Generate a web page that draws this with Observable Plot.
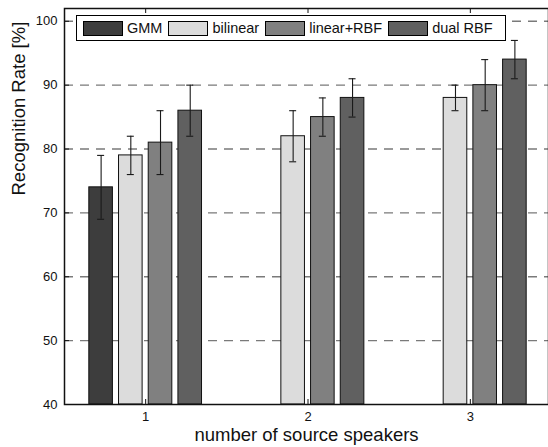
<!DOCTYPE html>
<html>
<head>
<meta charset="utf-8">
<script src="https://cdn.jsdelivr.net/npm/d3@7"></script>
<script src="https://cdn.jsdelivr.net/npm/@observablehq/plot@0.6"></script>
<style>
  html, body { margin: 0; padding: 0; background: #fff; }
  #wrap { position: relative; width: 548px; height: 447px; font-family: "Liberation Sans", Arial, sans-serif; }
  #legend { position: absolute; left: 76px; top: 15px; width: 428px; height: 24px; border: 1.3px solid #000; background: #fff;
            display: flex; align-items: center; font-size: 14.5px; color: #111; box-sizing: content-box; }
  .sw { width: 38px; height: 13px; border: 1px solid #000; margin-left: 6px; margin-right: 4px; }
</style>
</head>
<body>
<div id="wrap"><div id="legend"></div></div>
<script>
const groups = [1, 2, 3];
const series = ["GMM", "bilinear", "linear+RBF", "dual RBF"];
const colors = ["#3d3d3d", "#dcdcdc", "#808080", "#606060"];
// values per series, per group (null = no bar)
const GMM      = [74, null, null];
const bilinear = [79, 82, 88];
const linRBF   = [81, 85, 90];
const dualRBF  = [86, 88, 94];
const errLow  = { "GMM": [69, null, null], "bilinear": [76, 78, 86], "linear+RBF": [76, 82, 86], "dual RBF": [82, 85, 91] };
const errHigh = { "GMM": [79, null, null], "bilinear": [82, 86, 90], "linear+RBF": [86, 88, 94], "dual RBF": [90, 91, 97] };
const yTicks = [40, 50, 60, 70, 80, 90, 100];
const xLabel = "number of source speakers";
const yLabel = "Recognition Rate [%]";

const valuesBySeries = { "GMM": GMM, "bilinear": bilinear, "linear+RBF": linRBF, "dual RBF": dualRBF };
const data = [];
series.forEach((s, i) => groups.forEach((g, j) => {
  const v = valuesBySeries[s][j];
  if (v != null) data.push({ series: s, idx: i, group: g, value: v, lo: errLow[s][j], hi: errHigh[s][j] });
}));

const W = 548, H = 447;
const xRange = [64, 551];
const xDomain = [0.5, 3.5];
const pxPerUnit = (xRange[1] - xRange[0]) / (xDomain[1] - xDomain[0]);
const slot = 29.7 / pxPerUnit;
const half = 11.8 / pxPerUnit;
const cap = 3.5 / pxPerUnit;
const yDomain = [40, 102];
const yPx = (404 - 8) / (yDomain[1] - yDomain[0]);
const center = d => d.group + (d.idx - 1.5) * slot;
const tickLenX = 5 / pxPerUnit, tickLenY = 5 / yPx;

const plot = Plot.plot({
  width: W, height: H,
  marginLeft: 64, marginRight: 0, marginTop: 8, marginBottom: 43,
  style: { fontFamily: "Liberation Sans, Arial, sans-serif", fontSize: "13px", color: "#111", background: "transparent" },
  x: { domain: xDomain, range: xRange },
  y: { domain: yDomain },
  color: { domain: series, range: colors },
  marks: [
    Plot.ruleY(yTicks.filter(t => t > yDomain[0]), { stroke: "#7a7a7a", strokeWidth: 1.4, strokeDasharray: "9,7" }),
    Plot.rectY(data, { x1: d => center(d) - half, x2: d => center(d) + half, y1: yDomain[0], y2: "value",
      fill: "series", stroke: "#111", strokeWidth: 1 }),
    Plot.ruleX(data, { x: center, y1: "lo", y2: "hi", stroke: "#1a1a1a", strokeWidth: 1.1 }),
    Plot.ruleY(data, { y: "lo", x1: d => center(d) - cap, x2: d => center(d) + cap, stroke: "#1a1a1a", strokeWidth: 1.1 }),
    Plot.ruleY(data, { y: "hi", x1: d => center(d) - cap, x2: d => center(d) + cap, stroke: "#1a1a1a", strokeWidth: 1.1 }),
    // inward ticks
    Plot.ruleY(yTicks, { x1: xDomain[0], x2: xDomain[0] + tickLenX, stroke: "#111" }),
    Plot.ruleX(groups, { y1: yDomain[0], y2: yDomain[0] + tickLenY, stroke: "#111" }),
    Plot.ruleX(groups, { y1: yDomain[1], y2: yDomain[1] - tickLenY, stroke: "#111" }),
    Plot.frame({ stroke: "#111", strokeWidth: 1.5 }),
    Plot.axisY({ ticks: yTicks, tickSize: 0, tickPadding: 7, label: null }),
    Plot.axisX({ ticks: groups, tickSize: 0, tickPadding: 7, label: null, tickFormat: d3.format("d") }),
    Plot.text([xLabel], { frameAnchor: "bottom", dy: 36, fontSize: 18.5, fill: "#111" }),
    Plot.text([yLabel], { frameAnchor: "left", dx: -45, dy: -11, rotate: -90, fontSize: 18.5, fill: "#111" })
  ]
});
document.getElementById("wrap").prepend(plot);
plot.style.position = "absolute"; plot.style.left = "0"; plot.style.top = "0";

const legend = document.getElementById("legend");
series.forEach((s, i) => {
  const sw = document.createElement("div");
  sw.className = "sw"; sw.style.background = colors[i];
  legend.appendChild(sw);
  const t = document.createElement("span");
  t.textContent = s;
  legend.appendChild(t);
});
</script>
</body>
</html>
